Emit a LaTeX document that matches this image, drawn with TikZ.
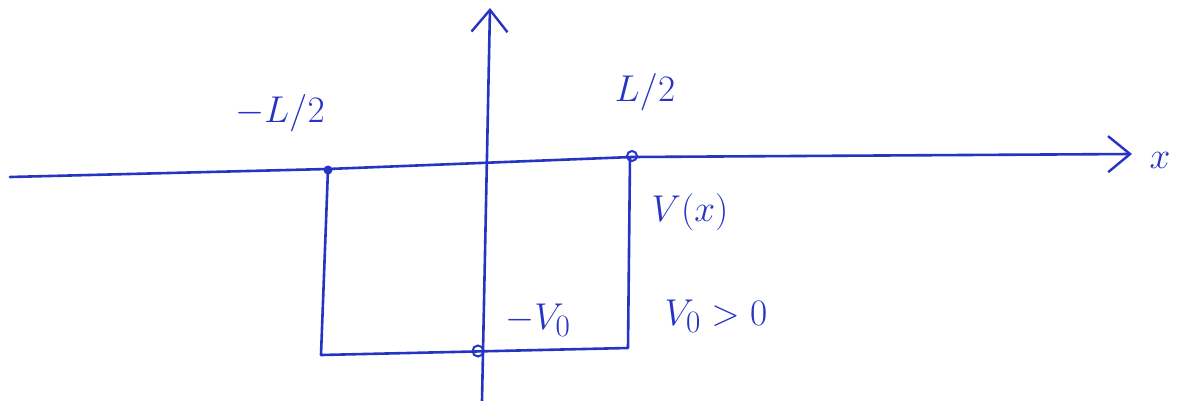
\documentclass[tikz,border=0pt]{standalone}
\usetikzlibrary{arrows.meta}
\definecolor{ink}{RGB}{38,52,196}
\begin{document}
\begin{tikzpicture}[x=1pt,y=-1pt,
  pen/.style={draw=ink,line width=2.6pt,line cap=round,line join=round},
  lbl/.style={text=ink,font=\Huge,inner sep=1pt,scale=1.5},
  opentip/.style={-{Straight Barb[length=22pt,width=36pt,line width=2.4pt]}}]
\useasboundingbox (0,0) rectangle (1184,401);
% axes
\coordinate (xs) at (10,177);
\coordinate (xe) at (1132,154);
\coordinate (ys) at (482,401);
\coordinate (ye) at (490,8);
\draw[pen,opentip] (xs) -- (328,169) -- (632,157) -- (xe);
\draw[pen,opentip] (ys) -- (ye);
% well
\coordinate (tl) at (328,169);
\coordinate (bl) at (321,355);
\coordinate (br) at (628,348);
\coordinate (tr) at (630,157);
\draw[pen] (tl) -- (bl) -- (br) -- (tr);
% dots
\node[circle,fill=ink,inner sep=0pt,minimum size=9pt] (d1) at (328,170) {};
\node[circle,draw=ink,line width=2pt,inner sep=0pt,minimum size=10pt] (d2) at (632,156) {};
\node[circle,draw=ink,line width=2pt,inner sep=0pt,minimum size=11pt] (d3) at (478,351) {};
% labels
\node[lbl] (lm) at (280,113) {$-L/2$};
\node[lbl] (lp) at (645,92) {$L/2$};
\node[lbl] (xl) at (1160,160) {$x$};
\node[lbl] (vx) at (690,212) {$V(x)$};
\node[lbl] (mv) at (538,320) {$-V_0$};
\node[lbl] (vp) at (716,316) {$V_0>0$};
\end{tikzpicture}
\end{document}
